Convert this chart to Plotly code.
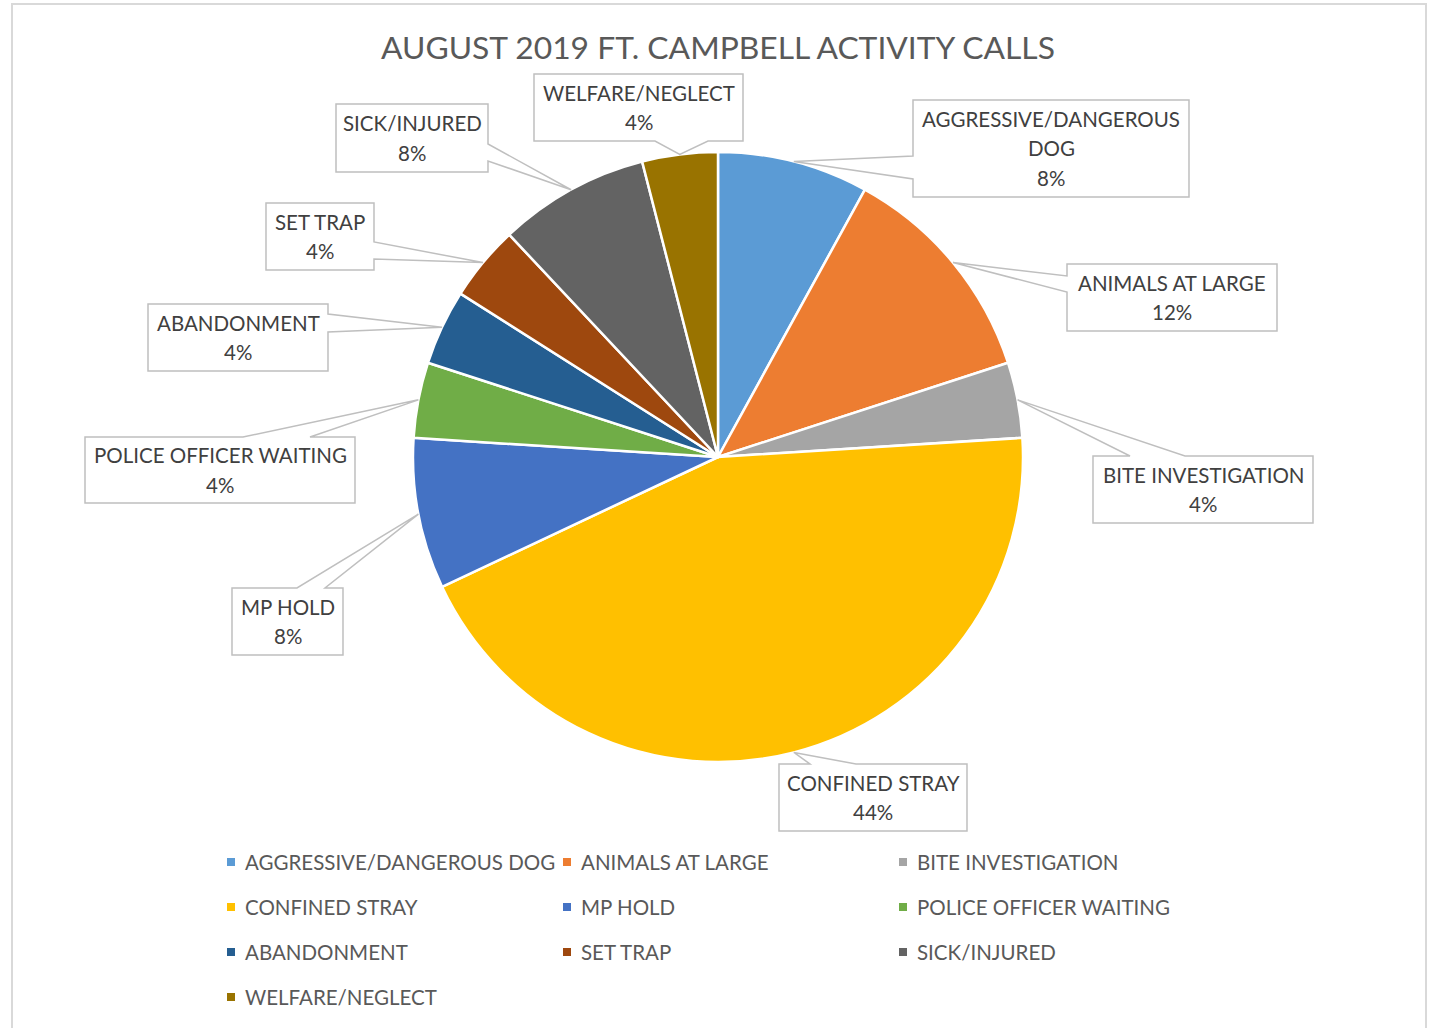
import math
import plotly.graph_objects as go

# ---------------- data ----------------
categories = ["AGGRESSIVE/DANGEROUS DOG", "ANIMALS AT LARGE", "BITE INVESTIGATION",
              "CONFINED STRAY", "MP HOLD", "POLICE OFFICER WAITING", "ABANDONMENT",
              "SET TRAP", "SICK/INJURED", "WELFARE/NEGLECT"]
calls = [2, 3, 1, 11, 2, 1, 1, 1, 2, 1]
label_lines = [["AGGRESSIVE/DANGEROUS", "DOG"], ["ANIMALS AT LARGE"], ["BITE INVESTIGATION"],
               ["CONFINED STRAY"], ["MP HOLD"], ["POLICE OFFICER WAITING"], ["ABANDONMENT"],
               ["SET TRAP"], ["SICK/INJURED"], ["WELFARE/NEGLECT"]]
colors = ["#5B9BD5", "#ED7D31", "#A5A5A5", "#FFC000", "#4472C4", "#70AD47",
          "#255E91", "#9E480E", "#636363", "#997300"]
title_text = "AUGUST 2019 FT. CAMPBELL ACTIVITY CALLS"

# ---------------- layout (pixels) ----------------
W, H = 1432, 1028
CX, CY, R = 718, 457, 305
FONT = "Lato"
LINE_GAP = 29.5

# callout boxes: x0, y0, x1, y1, side of tail, tail base start, tail base end
boxes = [
    (913, 100, 1189, 197, "left", 156, 179),
    (1067, 264, 1277, 331, "left", 276, 292),
    (1093, 456, 1313, 523, "top", 1130, 1185),
    (779, 764, 967, 831, "top", 810, 856),
    (232, 588, 343, 655, "top", 297, 325),
    (85, 437, 355, 503, "top", 243, 310),
    (148, 304, 328, 371, "right", 314, 332),
    (266, 203, 374, 270, "right", 242, 259),
    (336, 104, 488, 172, "right", 144, 161),
    (534, 74, 743, 141, "bottom", 655, 708),
]
# legend grid
LEG_COLS = [227, 563, 899]
LEG_ROW0, LEG_ROW_STEP = 862, 45
LEG_SQ = 8


def px(x, y):
    return x / W, 1 - y / H


def callout_path(box, tip):
    x0, y0, x1, y1, side, b0, b1 = box
    tx, ty = tip
    pts = [(x0, y0)]
    if side == "top":
        pts += [(b0, y0), (tx, ty), (b1, y0)]
    pts += [(x1, y0)]
    if side == "right":
        pts += [(x1, b0), (tx, ty), (x1, b1)]
    pts += [(x1, y1)]
    if side == "bottom":
        pts += [(b1, y1), (tx, ty), (b0, y1)]
    pts += [(x0, y1)]
    if side == "left":
        pts += [(x0, b1), (tx, ty), (x0, b0)]
    s = ""
    for i, (x, y) in enumerate(pts):
        fx, fy = px(x, y)
        s += ("M" if i == 0 else "L") + f"{fx:.6f},{fy:.6f} "
    return s + "Z"


total = sum(calls)
fig = go.Figure()
fig.add_trace(go.Pie(
    labels=categories, values=calls, sort=False, direction="clockwise", rotation=0,
    marker=dict(colors=colors, line=dict(color="white", width=2.5)),
    textinfo="none", hoverinfo="label+percent",
    domain=dict(x=[(CX - R) / W, (CX + R) / W], y=[1 - (CY + R) / H, 1 - (CY - R) / H]),
    showlegend=False,
))

shapes = [dict(type="rect", xref="paper", yref="paper",
               x0=12 / W, x1=1426 / W, y0=1 - 4 / H, y1=1 - 1045 / H,
               line=dict(color="#D9D9D9", width=2), fillcolor="rgba(0,0,0,0)", layer="below")]
annotations = []

# data-label callouts
cum = 0
for lines, v, box in zip(label_lines, calls, boxes):
    theta = 2 * math.pi * (cum + v / 2) / total
    cum += v
    tip = (CX + R * math.sin(theta), CY - R * math.cos(theta))
    shapes.append(dict(type="path", xref="paper", yref="paper",
                       path=callout_path(box, tip),
                       line=dict(color="#BFBFBF", width=1.5), fillcolor="white"))
    x0, y0, x1, y1 = box[:4]
    all_lines = lines + [f"{round(100 * v / total)}%"]
    n = len(all_lines)
    mx, my = (x0 + x1) / 2, (y0 + y1) / 2
    for k, t in enumerate(all_lines):
        ly = my + (k - (n - 1) / 2) * LINE_GAP
        ax, ay = px(mx, ly)
        annotations.append(dict(xref="paper", yref="paper", x=ax, y=ay,
                                xanchor="center", yanchor="middle", showarrow=False,
                                text=t, font=dict(family=FONT, size=20.5, color="#404040")))

# legend (row-major, 3 columns)
for i, (name, col) in enumerate(zip(categories, colors)):
    r, c = divmod(i, len(LEG_COLS))
    lx = LEG_COLS[c]
    ly = LEG_ROW0 + r * LEG_ROW_STEP
    fx0, fy0 = px(lx, ly - LEG_SQ / 2)
    fx1, fy1 = px(lx + LEG_SQ, ly + LEG_SQ / 2)
    shapes.append(dict(type="rect", xref="paper", yref="paper", x0=fx0, x1=fx1, y0=fy0, y1=fy1,
                       line=dict(width=0), fillcolor=col))
    tx, ty = px(lx + 16, ly)
    annotations.append(dict(xref="paper", yref="paper", x=tx, y=ty, xanchor="left",
                            yanchor="middle", showarrow=False, text=name,
                            font=dict(family=FONT, size=20.5, color="#595959")))

fig.update_layout(
    width=W, height=H, margin=dict(l=0, r=0, t=0, b=0),
    paper_bgcolor="white", plot_bgcolor="white", showlegend=False,
    title=dict(text=title_text, x=718 / W, xanchor="center", y=1 - 48 / H, yanchor="middle",
               font=dict(family=FONT, size=31.8, color="#595959")),
    shapes=shapes, annotations=annotations,
)

fig.write_html("out.html", config={"displayModeBar": False},
               post_script="document.body.style.margin='0';document.body.style.overflow='hidden';")
